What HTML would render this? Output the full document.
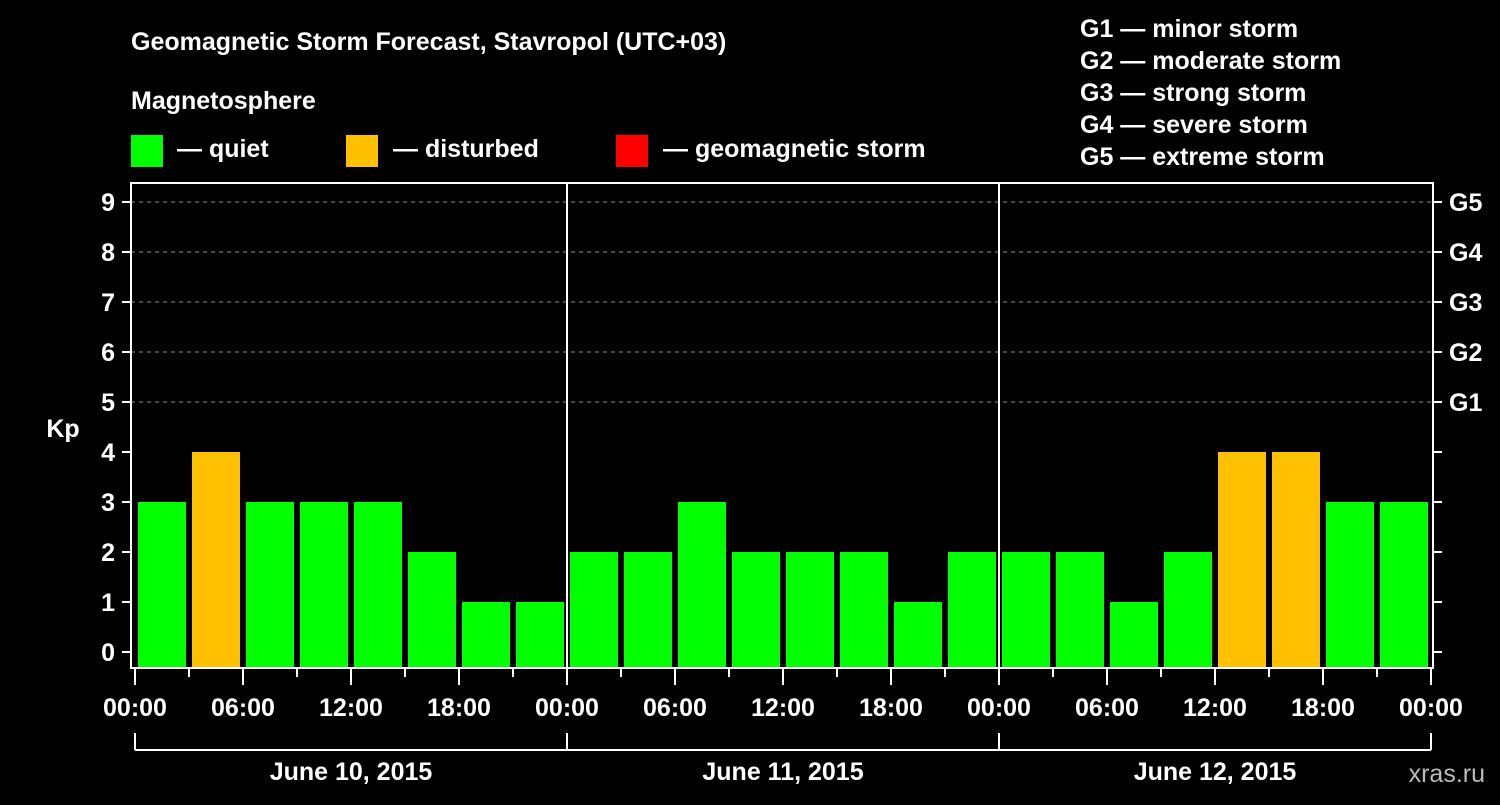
<!DOCTYPE html>
<html><head><meta charset="utf-8"><style>
body{margin:0;background:#000;width:1500px;height:800px;overflow:hidden;font-family:"Liberation Sans",Arial,sans-serif}
svg text{font-family:"Liberation Sans",Arial,sans-serif;font-weight:bold;fill:#fff}
</style></head><body>
<svg id="chart" width="1500" height="800" xmlns="http://www.w3.org/2000/svg">
<text x="131" y="50" font-size="25">Geomagnetic Storm Forecast, Stavropol (UTC+03)</text>
<text x="131" y="109" font-size="25">Magnetosphere</text>
<rect x="131" y="135" width="32" height="32" fill="#00ff00"/>
<text x="177" y="157" font-size="25">— quiet</text>
<rect x="346" y="135" width="32" height="32" fill="#ffc000"/>
<text x="393" y="157" font-size="25">— disturbed</text>
<rect x="616" y="135" width="32" height="32" fill="#ff0000"/>
<text x="663" y="157" font-size="25">— geomagnetic storm</text>
<g font-size="25">
<text x="1080" y="37">G1 — minor storm</text>
<text x="1080" y="69">G2 — moderate storm</text>
<text x="1080" y="101">G3 — strong storm</text>
<text x="1080" y="133">G4 — severe storm</text>
<text x="1080" y="165">G5 — extreme storm</text>
</g>
<text x="63" y="437" font-size="25" text-anchor="middle">Kp</text>
<text x="1485" y="782" font-size="25" text-anchor="end" fill="#bbb" style="fill:#bbb;font-weight:normal">xras.ru</text>
<g id="plot"></g>
</svg>
<script>
const kpValues=[3,4,3,3,3,2,1,1, 2,2,3,2,2,2,1,2, 2,2,1,2,4,4,3,3];
const yTicks=[0,1,2,3,4,5,6,7,8,9];
const gLabels=["G1","G2","G3","G4","G5"];
const gLevels=[5,6,7,8,9];
const timeLabels=["00:00","06:00","12:00","18:00","00:00","06:00","12:00","18:00","00:00","06:00","12:00","18:00","00:00"];
const dayLabels=["June 10, 2015","June 11, 2015","June 12, 2015"];

const NS="http://www.w3.org/2000/svg";
const plot=document.getElementById('plot');
const xOf=h=>135+h*18;
const yOf=v=>652-v*50;
function mk(tag,attrs){const e=document.createElementNS(NS,tag);for(const k in attrs)e.setAttribute(k,attrs[k]);plot.appendChild(e);return e;}
// grid
gLevels.forEach((lv,i)=>{
  const l=mk('line',{x1:131,x2:1433,y1:yOf(lv),y2:yOf(lv),stroke:'#888','stroke-dasharray':'4,4','stroke-width':1});
  
  
});
// bars
kpValues.forEach((v,i)=>{
  const x0=xOf(i*3)+3,x1=xOf(i*3+3)-3;
  const c=v>=5?'#ff0000':(v>=4?'#ffc000':'#00ff00');
  const r=mk('rect',{x:x0,y:yOf(v),width:x1-x0,height:668-yOf(v),fill:c});
  
  
});
// frame
const f=mk('rect',{x:131,y:183,width:1302,height:485,fill:'none',stroke:'#fff','stroke-width':2});


[1,2].forEach(d=>{
  const l=mk('line',{x1:xOf(d*24),x2:xOf(d*24),y1:183,y2:668,stroke:'#fff','stroke-width':2});
  
  
});
// y ticks
yTicks.forEach(v=>{
  mk('line',{x1:122,x2:131,y1:yOf(v),y2:yOf(v),stroke:'#fff','stroke-width':2});
  mk('line',{x1:1433,x2:1442,y1:yOf(v),y2:yOf(v),stroke:'#fff','stroke-width':2});
  const t=mk('text',{x:115,y:yOf(v)+9,'font-size':25,'text-anchor':'end'});
  t.textContent=v;
  
  
});
gLabels.forEach((g,i)=>{
  const t=mk('text',{x:1449,y:yOf(gLevels[i])+9,'font-size':25});
  t.textContent=g;
  
  
});
// x ticks
for(let k=0;k<=24;k++){
  const major=k%2===0;
  mk('line',{x1:xOf(k*3),x2:xOf(k*3),y1:668,y2:major?685:677,stroke:'#fff','stroke-width':2});
}
timeLabels.forEach((s,i)=>{
  const t=mk('text',{x:xOf(i*6),y:716,'font-size':25,'text-anchor':'middle'});
  t.textContent=s;
  
  
});
// day brackets
mk('line',{x1:xOf(0),x2:xOf(72),y1:750,y2:750,stroke:'#fff','stroke-width':2});
for(let d=0;d<=3;d++)mk('line',{x1:xOf(d*24),x2:xOf(d*24),y1:733,y2:750,stroke:'#fff','stroke-width':2});
dayLabels.forEach((s,i)=>{
  const t=mk('text',{x:xOf(i*24+12),y:780,'font-size':25,'text-anchor':'middle'});
  t.textContent=s;
  
  
});
</script>
</body></html>
